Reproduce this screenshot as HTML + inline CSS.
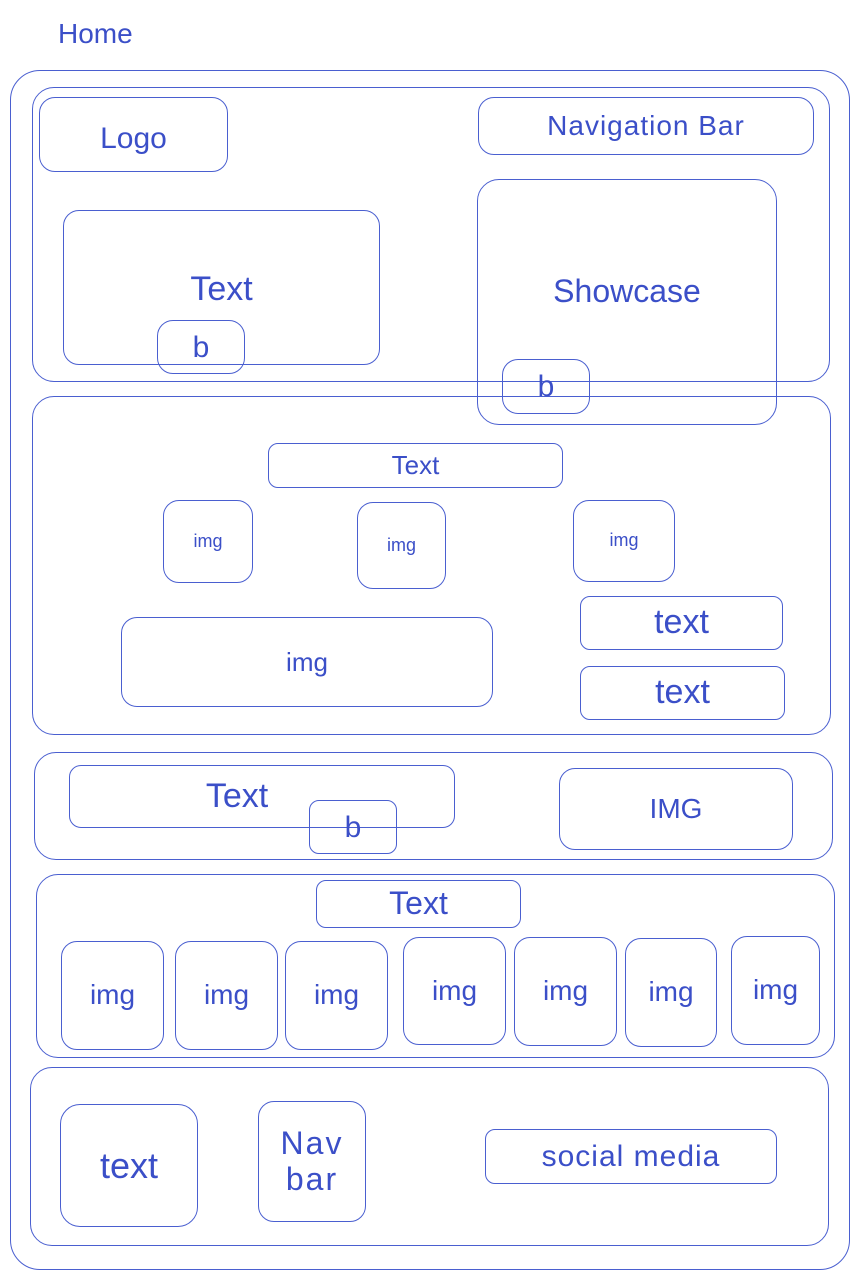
<!DOCTYPE html>
<html><head><meta charset="utf-8"><style>
body{margin:0;width:860px;height:1280px;background:#fff;position:relative;overflow:hidden;font-family:"Liberation Sans",sans-serif;color:#3b4fc8}
.b{position:absolute;border:1.8px solid #4a5fd0;border-radius:16px;box-sizing:border-box;display:flex;align-items:center;justify-content:center;text-align:center;line-height:1.1}
.t{position:absolute;}
</style></head><body>
<div class="t" style="left:58px;top:18px;font-size:28px">Home</div>
<div class="b" style="left:10px;top:70px;width:840px;height:1200px;border-radius:30px"></div>
<div class="b" style="left:32px;top:87px;width:798px;height:295px;border-radius:22px"></div>
<div class="b" style="left:39px;top:97px;width:189px;height:75px;font-size:30px;padding-top:8px">Logo</div>
<div class="b" style="left:478px;top:97px;width:336px;height:58px;font-size:28px;letter-spacing:1px">Navigation Bar</div>
<div class="b" style="left:63px;top:210px;width:317px;height:155px;font-size:34px;padding-top:4px">Text</div>
<div class="b" style="left:157px;top:320px;width:88px;height:54px;font-size:30px;background:transparent">b</div>
<div class="b" style="left:32px;top:396px;width:799px;height:339px;border-radius:22px"></div>
<div class="b" style="left:477px;top:179px;width:300px;height:246px;font-size:32px;padding-bottom:20px;border-radius:22px">Showcase</div>
<div class="b" style="left:502px;top:359px;width:88px;height:55px;font-size:30px">b</div>
<div class="b" style="left:268px;top:443px;width:295px;height:45px;font-size:26px;border-radius:10px">Text</div>
<div class="b" style="left:163px;top:500px;width:90px;height:83px;font-size:18px">img</div>
<div class="b" style="left:357px;top:502px;width:89px;height:87px;font-size:18px">img</div>
<div class="b" style="left:573px;top:500px;width:102px;height:82px;font-size:18px">img</div>
<div class="b" style="left:121px;top:617px;width:372px;height:90px;font-size:26px">img</div>
<div class="b" style="left:580px;top:596px;width:203px;height:54px;font-size:34px;border-radius:10px">text</div>
<div class="b" style="left:580px;top:666px;width:205px;height:54px;font-size:34px;border-radius:10px">text</div>
<div class="b" style="left:34px;top:752px;width:799px;height:108px;border-radius:22px"></div>
<div class="b" style="left:69px;top:765px;width:386px;height:63px;font-size:34px;padding-right:50px;border-radius:12px">Text</div>
<div class="b" style="left:309px;top:800px;width:88px;height:54px;font-size:30px;border-radius:10px">b</div>
<div class="b" style="left:559px;top:768px;width:234px;height:82px;font-size:28px">IMG</div>
<div class="b" style="left:36px;top:874px;width:799px;height:184px;border-radius:22px"></div>
<div class="b" style="left:316px;top:880px;width:205px;height:48px;font-size:32px;border-radius:10px">Text</div>
<div class="b" style="left:61px;top:941px;width:103px;height:109px;font-size:28px">img</div>
<div class="b" style="left:175px;top:941px;width:103px;height:109px;font-size:28px">img</div>
<div class="b" style="left:285px;top:941px;width:103px;height:109px;font-size:28px">img</div>
<div class="b" style="left:403px;top:937px;width:103px;height:108px;font-size:28px">img</div>
<div class="b" style="left:514px;top:937px;width:103px;height:109px;font-size:28px">img</div>
<div class="b" style="left:625px;top:938px;width:92px;height:109px;font-size:28px">img</div>
<div class="b" style="left:731px;top:936px;width:89px;height:109px;font-size:28px">img</div>
<div class="b" style="left:30px;top:1067px;width:799px;height:179px;border-radius:22px"></div>
<div class="b" style="left:60px;top:1104px;width:138px;height:123px;font-size:36px;border-radius:20px">text</div>
<div class="b" style="left:258px;top:1101px;width:108px;height:121px;font-size:32px;letter-spacing:2px">Nav<br>bar</div>
<div class="b" style="left:485px;top:1129px;width:292px;height:55px;font-size:30px;border-radius:10px;letter-spacing:1px">social media</div>
</body></html>
